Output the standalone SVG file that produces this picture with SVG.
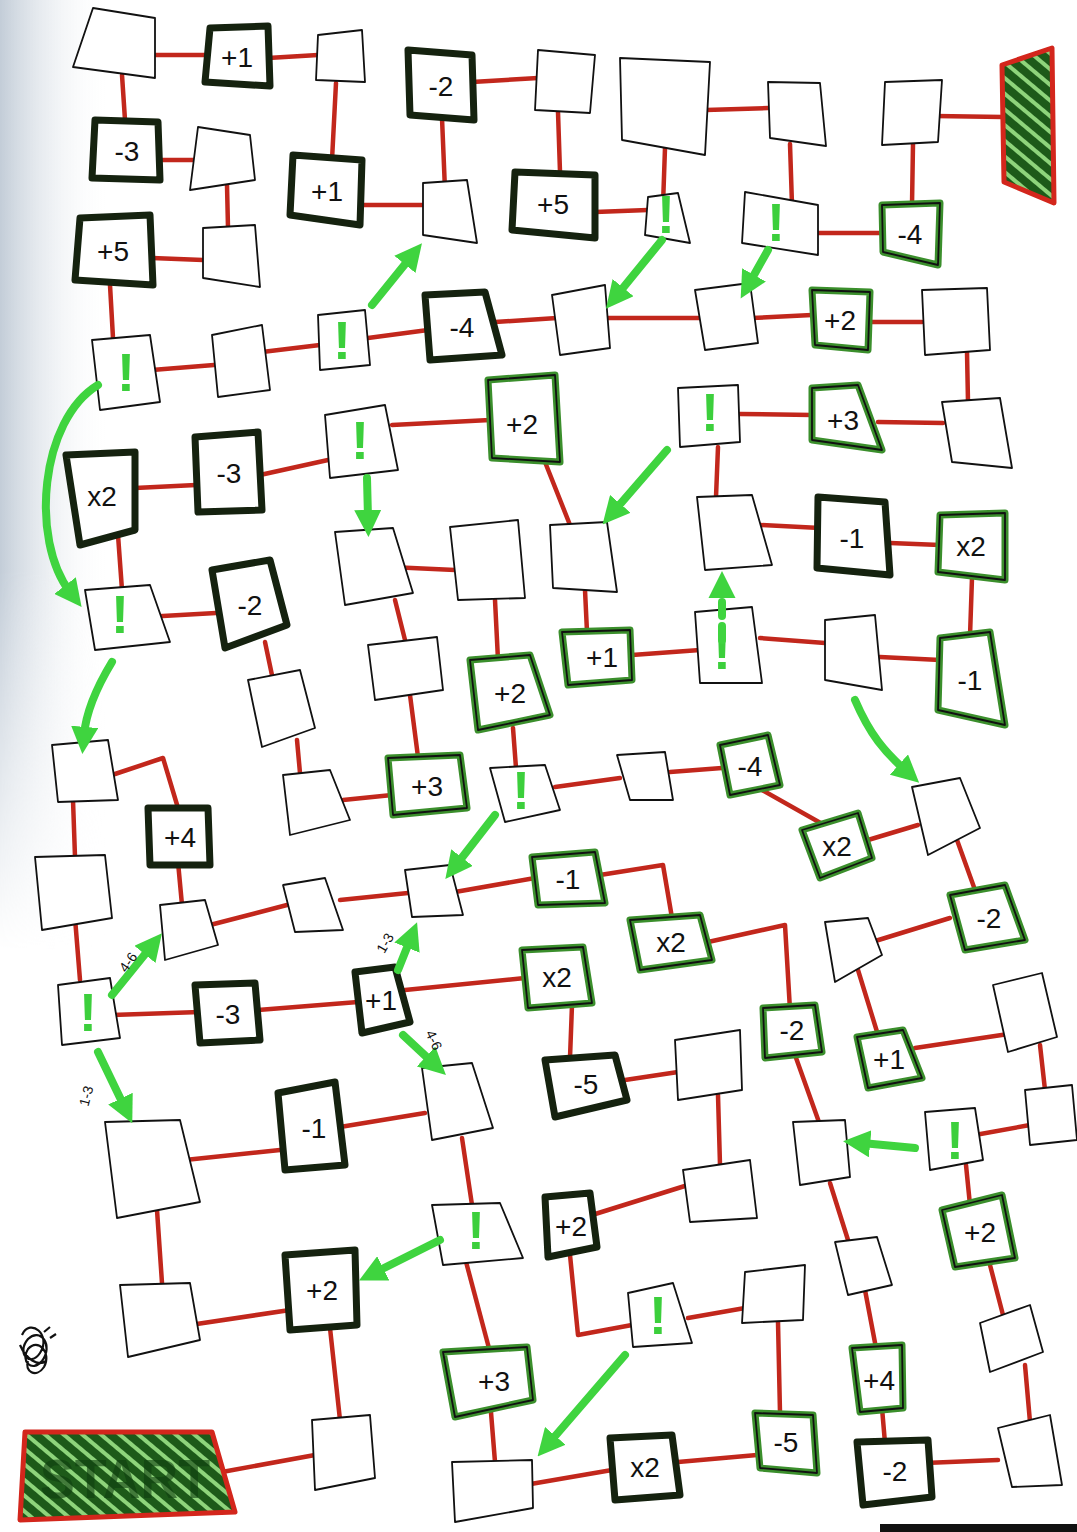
<svg xmlns="http://www.w3.org/2000/svg" width="1077" height="1532" viewBox="0 0 1077 1532">
<defs>
<style>
.plain{fill:#fff;stroke:#111;stroke-width:1.8;stroke-linejoin:round}
.dark{fill:#fff;stroke:#15220f;stroke-width:7;stroke-linejoin:round}
.green{fill:#fff;stroke:#3b8f2c;stroke-width:7;stroke-linejoin:round}
.edge{fill:none;stroke:#111;stroke-width:1.8;stroke-linejoin:round}
.lbl{font-family:"Liberation Sans",Arial,sans-serif;font-size:28px;fill:#111;text-anchor:middle;dominant-baseline:central}
.bang{font-family:"Liberation Sans",Arial,sans-serif;font-size:54px;font-weight:bold;fill:#3ccf3c;text-anchor:middle;dominant-baseline:central}
.dice{font-family:"Liberation Sans",Arial,sans-serif;font-size:14px;fill:#111;text-anchor:middle;dominant-baseline:central}
#connectors line,#connectors polyline{stroke:#c2271c;stroke-width:4.5;fill:none;stroke-linecap:round;stroke-linejoin:round}
.arr{stroke:#3fd43f;stroke-width:8;fill:none;stroke-linecap:round;marker-end:url(#ah)}
.goal{fill:url(#hatch);stroke:#d3261c;stroke-width:5;stroke-linejoin:round}
</style>
<marker id="ah" viewBox="0 0 10 10" refX="3" refY="5" markerWidth="3.4" markerHeight="3.4" orient="auto"><path d="M0,0 L10,5 L0,10 z" fill="#3fd43f"/></marker>
<pattern id="hatch" patternUnits="userSpaceOnUse" width="12" height="12" patternTransform="rotate(-50)"><rect width="12" height="12" fill="#8ed47b"/><rect width="8" height="12" fill="#1d5a19"/></pattern>
<linearGradient id="bgl" x1="0" y1="0" x2="1" y2="0"><stop offset="0" stop-color="#c3cdd8"/><stop offset="1" stop-color="#ffffff" stop-opacity="0"/></linearGradient>
<linearGradient id="fadev" x1="0" y1="0" x2="0" y2="1"><stop offset="0" stop-color="#fff"/><stop offset="0.6" stop-color="#fff"/><stop offset="1" stop-color="#000"/></linearGradient>
<mask id="fm"><rect x="0" y="0" width="110" height="950" fill="url(#fadev)"/></mask>
</defs>
<rect width="1077" height="1532" fill="#fff"/>
<rect x="0" y="0" width="110" height="950" fill="url(#bgl)" mask="url(#fm)"/>
<rect x="880" y="1524" width="197" height="8" fill="#111"/>
<path d="M22,1335 c8,-18 30,0 18,18 c-10,15 -24,0 -12,-14 c12,-12 26,6 14,22 c-10,12 -22,0 -14,-12 c10,-12 24,4 16,18 c-8,12 -20,4 -16,-6 M20,1345 c6,14 18,22 26,16 M44,1332 l6,-5 M50,1338 l6,-4" fill="none" stroke="#111" stroke-width="2.2"/>

<g id="connectors">
<line x1="155" y1="55" x2="208" y2="55"/>
<line x1="268" y1="58" x2="318" y2="55"/>
<line x1="122" y1="75" x2="125" y2="120"/>
<line x1="160" y1="160" x2="198" y2="160"/>
<line x1="227" y1="185" x2="228" y2="228"/>
<line x1="152" y1="258" x2="203" y2="260"/>
<line x1="110" y1="285" x2="113" y2="338"/>
<line x1="152" y1="370" x2="214" y2="365"/>
<line x1="262" y1="352" x2="320" y2="345"/>
<line x1="368" y1="338" x2="428" y2="330"/>
<line x1="495" y1="322" x2="557" y2="318"/>
<line x1="604" y1="318" x2="700" y2="318"/>
<line x1="752" y1="318" x2="812" y2="315"/>
<line x1="868" y1="322" x2="922" y2="322"/>
<line x1="967" y1="352" x2="968" y2="402"/>
<line x1="943" y1="423" x2="878" y2="422"/>
<line x1="812" y1="415" x2="740" y2="414"/>
<line x1="718" y1="447" x2="716" y2="497"/>
<line x1="760" y1="525" x2="820" y2="528"/>
<line x1="890" y1="543" x2="940" y2="545"/>
<line x1="972" y1="578" x2="970" y2="636"/>
<line x1="940" y1="660" x2="880" y2="657"/>
<line x1="825" y1="643" x2="760" y2="638"/>
<line x1="700" y1="650" x2="632" y2="655"/>
<line x1="587" y1="632" x2="585" y2="590"/>
<line x1="570" y1="525" x2="545" y2="462"/>
<line x1="490" y1="420" x2="392" y2="425"/>
<line x1="328" y1="460" x2="260" y2="475"/>
<line x1="196" y1="485" x2="135" y2="488"/>
<line x1="118" y1="535" x2="122" y2="590"/>
<line x1="145" y1="617" x2="216" y2="613"/>
<line x1="265" y1="642" x2="273" y2="680"/>
<line x1="297" y1="740" x2="300" y2="773"/>
<line x1="343" y1="800" x2="392" y2="795"/>
<line x1="418" y1="757" x2="410" y2="695"/>
<line x1="405" y1="640" x2="395" y2="600"/>
<line x1="390" y1="567" x2="455" y2="570"/>
<line x1="495" y1="600" x2="498" y2="660"/>
<line x1="513" y1="728" x2="516" y2="768"/>
<line x1="555" y1="787" x2="620" y2="778"/>
<line x1="670" y1="772" x2="722" y2="768"/>
<line x1="762" y1="790" x2="833" y2="830"/>
<line x1="868" y1="840" x2="918" y2="825"/>
<line x1="957" y1="840" x2="975" y2="890"/>
<line x1="950" y1="918" x2="872" y2="942"/>
<line x1="858" y1="970" x2="878" y2="1035"/>
<line x1="915" y1="1048" x2="1015" y2="1033"/>
<line x1="1040" y1="1045" x2="1045" y2="1090"/>
<line x1="1030" y1="1125" x2="975" y2="1135"/>
<line x1="966" y1="1165" x2="970" y2="1205"/>
<line x1="990" y1="1265" x2="1003" y2="1315"/>
<line x1="1025" y1="1365" x2="1030" y2="1422"/>
<line x1="998" y1="1460" x2="925" y2="1463"/>
<line x1="885" y1="1443" x2="882" y2="1408"/>
<line x1="876" y1="1348" x2="865" y2="1290"/>
<line x1="848" y1="1240" x2="830" y2="1183"/>
<line x1="820" y1="1125" x2="795" y2="1055"/>
<polyline points="790,1010 785,925 708,942"/>
<polyline points="672,918 663,865 600,875"/>
<line x1="535" y1="878" x2="455" y2="892"/>
<line x1="408" y1="893" x2="340" y2="900"/>
<line x1="287" y1="905" x2="210" y2="925"/>
<line x1="182" y1="905" x2="178" y2="862"/>
<polyline points="112,775 163,758 178,808"/>
<line x1="73" y1="800" x2="75" y2="857"/>
<line x1="75" y1="918" x2="80" y2="980"/>
<line x1="112" y1="1015" x2="200" y2="1012"/>
<line x1="258" y1="1010" x2="358" y2="1002"/>
<line x1="405" y1="990" x2="525" y2="978"/>
<line x1="572" y1="1005" x2="570" y2="1058"/>
<line x1="625" y1="1080" x2="678" y2="1072"/>
<line x1="718" y1="1095" x2="720" y2="1165"/>
<line x1="688" y1="1185" x2="592" y2="1215"/>
<polyline points="570,1255 578,1335 632,1325"/>
<line x1="688" y1="1318" x2="745" y2="1308"/>
<line x1="778" y1="1322" x2="780" y2="1413"/>
<line x1="757" y1="1455" x2="678" y2="1462"/>
<line x1="612" y1="1470" x2="525" y2="1485"/>
<line x1="495" y1="1462" x2="490" y2="1400"/>
<line x1="490" y1="1352" x2="465" y2="1258"/>
<line x1="472" y1="1205" x2="462" y2="1138"/>
<line x1="425" y1="1113" x2="340" y2="1127"/>
<line x1="280" y1="1150" x2="185" y2="1160"/>
<line x1="157" y1="1210" x2="162" y2="1283"/>
<line x1="190" y1="1325" x2="290" y2="1310"/>
<line x1="330" y1="1328" x2="340" y2="1420"/>
<line x1="315" y1="1455" x2="222" y2="1472"/>
<line x1="336" y1="83" x2="332" y2="160"/>
<line x1="362" y1="205" x2="423" y2="205"/>
<line x1="445" y1="190" x2="442" y2="118"/>
<line x1="472" y1="82" x2="538" y2="78"/>
<line x1="558" y1="112" x2="560" y2="172"/>
<line x1="595" y1="212" x2="648" y2="210"/>
<line x1="663" y1="205" x2="665" y2="148"/>
<line x1="706" y1="110" x2="768" y2="108"/>
<line x1="790" y1="144" x2="792" y2="205"/>
<line x1="818" y1="233" x2="882" y2="233"/>
<line x1="912" y1="205" x2="913" y2="144"/>
<line x1="935" y1="116" x2="1003" y2="117"/>
</g>

<g id="n-finish"><polygon class="goal" points="1002,65 1052,48 1054,203 1004,182"/></g>
<g id="n-start"><polygon class="goal" points="25,1432 212,1432 235,1512 20,1520"/><text x="125" y="1478" font-family="Liberation Sans, Arial, sans-serif" font-size="56" font-weight="bold" fill="#0f3d0f" fill-opacity="0.6" text-anchor="middle" dominant-baseline="central" textLength="170" lengthAdjust="spacingAndGlyphs">START</text></g>

<g id="n1"><polygon class="plain" points="93,8 155,18 155,78 73,67"/></g>
<g id="n2"><polygon class="dark" points="210,28 268,26 270,86 205,82"/><text class="lbl" x="237" y="57">+1</text></g>
<g id="n3"><polygon class="plain" points="318,35 362,30 365,82 316,80"/></g>
<g id="n4"><polygon class="dark" points="408,50 472,55 474,120 410,115"/><text class="lbl" x="441" y="86">-2</text></g>
<g id="n5"><polygon class="plain" points="538,50 595,55 590,113 535,110"/></g>
<g id="n6"><polygon class="plain" points="620,58 710,62 705,155 622,140"/></g>
<g id="n7"><polygon class="plain" points="768,82 820,83 826,146 770,138"/></g>
<g id="n8"><polygon class="plain" points="885,82 942,80 938,142 882,145"/></g>
<g id="n10"><polygon class="dark" points="95,120 158,122 160,180 92,178"/><text class="lbl" x="127" y="151">-3</text></g>
<g id="n11"><polygon class="plain" points="198,127 250,135 255,180 190,190"/></g>
<g id="n12"><polygon class="dark" points="293,155 362,160 360,225 290,215"/><text class="lbl" x="327" y="191">+1</text></g>
<g id="n13"><polygon class="plain" points="423,183 467,180 477,243 423,235"/></g>
<g id="n14"><polygon class="dark" points="515,172 595,175 595,238 512,230"/><text class="lbl" x="553" y="204">+5</text></g>
<g id="n15"><polygon class="plain" points="648,197 678,193 690,243 645,235"/><text class="bang" x="666" y="214">!</text></g>
<g id="n16"><polygon class="plain" points="745,192 818,205 818,255 742,243"/><text class="bang" x="776" y="222">!</text></g>
<g id="n17"><polygon class="green" points="882,205 940,203 938,265 883,252"/><polygon class="edge" points="882,205 940,203 938,265 883,252"/><text class="lbl" x="910" y="234">-4</text></g>
<g id="n18"><polygon class="plain" points="203,228 255,225 260,287 203,278"/></g>
<g id="n19"><polygon class="dark" points="80,218 150,215 153,285 75,280"/><text class="lbl" x="113" y="251">+5</text></g>
<g id="n20"><polygon class="plain" points="92,340 150,335 160,402 100,410"/><text class="bang" x="126" y="372">!</text></g>
<g id="n21"><polygon class="plain" points="212,335 262,325 270,390 218,397"/></g>
<g id="n22"><polygon class="plain" points="318,315 365,310 370,365 320,370"/><text class="bang" x="342" y="340">!</text></g>
<g id="n23"><polygon class="dark" points="425,295 485,292 502,355 430,360"/><text class="lbl" x="462" y="327">-4</text></g>
<g id="n24"><polygon class="plain" points="552,295 605,285 610,348 560,355"/></g>
<g id="n25"><polygon class="plain" points="695,290 750,283 758,343 705,350"/></g>
<g id="n26"><polygon class="green" points="812,290 870,292 868,350 815,345"/><polygon class="edge" points="812,290 870,292 868,350 815,345"/><text class="lbl" x="840" y="320">+2</text></g>
<g id="n27"><polygon class="plain" points="922,290 987,288 990,350 925,355"/></g>
<g id="n28"><polygon class="dark" points="66,455 135,452 135,530 80,545"/><text class="lbl" x="102" y="496">x2</text></g>
<g id="n29"><polygon class="dark" points="195,437 258,432 262,510 198,512"/><text class="lbl" x="229" y="473">-3</text></g>
<g id="n30"><polygon class="plain" points="325,415 385,405 398,470 330,478"/><text class="bang" x="360" y="440">!</text></g>
<g id="n31"><polygon class="green" points="488,380 555,375 560,462 492,458"/><polygon class="edge" points="488,380 555,375 560,462 492,458"/><text class="lbl" x="522" y="424">+2</text></g>
<g id="n32"><polygon class="plain" points="678,388 738,385 740,442 680,447"/><text class="bang" x="710" y="412">!</text></g>
<g id="n33"><polygon class="green" points="812,388 858,385 882,450 812,440"/><polygon class="edge" points="812,388 858,385 882,450 812,440"/><text class="lbl" x="843" y="420">+3</text></g>
<g id="n34"><polygon class="plain" points="942,402 1000,398 1012,468 952,462"/></g>
<g id="n35"><polygon class="plain" points="85,590 150,585 170,642 95,650"/><text class="bang" x="120" y="614">!</text></g>
<g id="n36"><polygon class="dark" points="212,570 270,560 287,625 225,648"/><text class="lbl" x="250" y="605">-2</text></g>
<g id="p1"><polygon class="plain" points="335,532 393,528 413,593 345,605"/></g>
<g id="p2"><polygon class="plain" points="450,527 518,520 525,598 458,600"/></g>
<g id="p3"><polygon class="plain" points="550,525 607,522 617,592 553,588"/></g>
<g id="p4"><polygon class="plain" points="697,497 752,495 772,565 705,570"/></g>
<g id="p5"><polygon class="dark" points="818,497 885,502 890,575 817,568"/><text class="lbl" x="852" y="538">-1</text></g>
<g id="p6"><polygon class="green" points="940,515 1005,513 1005,580 938,572"/><polygon class="edge" points="940,515 1005,513 1005,580 938,572"/><text class="lbl" x="971" y="546">x2</text></g>
<g id="q1"><polygon class="plain" points="248,680 300,670 315,728 262,747"/></g>
<g id="q2"><polygon class="plain" points="368,645 437,637 443,690 375,700"/></g>
<g id="q3"><polygon class="green" points="470,660 530,655 550,715 478,730"/><polygon class="edge" points="470,660 530,655 550,715 478,730"/><text class="lbl" x="510" y="693">+2</text></g>
<g id="q4"><polygon class="green" points="562,632 630,630 632,680 568,685"/><polygon class="edge" points="562,632 630,630 632,680 568,685"/><text class="lbl" x="602" y="657">+1</text></g>
<g id="q5"><polygon class="plain" points="695,612 752,607 762,683 700,683"/><text class="bang" x="722" y="650">!</text></g>
<g id="q5b"><polygon class="plain" points="825,620 875,615 882,690 825,680"/></g>
<g id="q6"><polygon class="green" points="940,638 990,632 1005,725 938,710"/><polygon class="edge" points="940,638 990,632 1005,725 938,710"/><text class="lbl" x="970" y="680">-1</text></g>
<g id="r1"><polygon class="plain" points="52,745 108,740 118,800 58,802"/></g>
<g id="r2"><polygon class="dark" points="148,808 208,808 210,865 150,865"/><text class="lbl" x="180" y="837">+4</text></g>
<g id="r3"><polygon class="plain" points="283,775 330,770 350,820 290,835"/></g>
<g id="r4"><polygon class="green" points="388,758 460,755 467,808 393,815"/><polygon class="edge" points="388,758 460,755 467,808 393,815"/><text class="lbl" x="427" y="786">+3</text></g>
<g id="r5"><polygon class="plain" points="490,768 545,765 560,810 505,822"/><text class="bang" x="521" y="790">!</text></g>
<g id="r6"><polygon class="plain" points="617,755 665,752 673,800 630,800"/></g>
<g id="r7"><polygon class="green" points="720,745 768,735 780,785 730,795"/><polygon class="edge" points="720,745 768,735 780,785 730,795"/><text class="lbl" x="750" y="766">-4</text></g>
<g id="r8"><polygon class="plain" points="912,787 960,778 980,828 928,855"/></g>
<g id="r9"><polygon class="green" points="802,830 858,813 872,858 820,878"/><polygon class="edge" points="802,830 858,813 872,858 820,878"/><text class="lbl" x="837" y="846">x2</text></g>
<g id="r10"><polygon class="plain" points="35,857 105,855 112,918 42,930"/></g>
<g id="s1"><polygon class="plain" points="160,905 205,900 218,945 165,960"/></g>
<g id="s2"><polygon class="plain" points="283,885 325,878 343,930 295,932"/></g>
<g id="s3"><polygon class="plain" points="405,870 450,865 463,915 412,917"/></g>
<g id="s4"><polygon class="green" points="532,857 595,852 605,903 538,905"/><polygon class="edge" points="532,857 595,852 605,903 538,905"/><text class="lbl" x="568" y="879">-1</text></g>
<g id="s5"><polygon class="green" points="630,920 700,915 712,960 640,970"/><polygon class="edge" points="630,920 700,915 712,960 640,970"/><text class="lbl" x="671" y="942">x2</text></g>
<g id="s6"><polygon class="green" points="950,895 1005,885 1025,940 965,950"/><polygon class="edge" points="950,895 1005,885 1025,940 965,950"/><text class="lbl" x="989" y="918">-2</text></g>
<g id="s7"><polygon class="plain" points="58,985 110,978 120,1038 62,1045"/><text class="bang" x="88" y="1012">!</text></g>
<g id="s8"><polygon class="dark" points="195,985 255,983 260,1040 200,1043"/><text class="lbl" x="228" y="1014">-3</text></g>
<g id="s9"><polygon class="dark" points="355,972 395,967 410,1022 362,1033"/><text class="lbl" x="381" y="1000">+1</text></g>
<g id="s10"><polygon class="green" points="522,950 583,947 592,1003 528,1008"/><polygon class="edge" points="522,950 583,947 592,1003 528,1008"/><text class="lbl" x="557" y="977">x2</text></g>
<g id="s11"><polygon class="dark" points="545,1060 615,1055 627,1100 555,1117"/><text class="lbl" x="586" y="1084">-5</text></g>
<g id="s12"><polygon class="plain" points="675,1040 740,1030 742,1090 678,1100"/></g>
<g id="t1"><polygon class="plain" points="825,922 868,918 882,955 835,982"/></g>
<g id="t2"><polygon class="green" points="763,1008 815,1005 822,1052 765,1058"/><polygon class="edge" points="763,1008 815,1005 822,1052 765,1058"/><text class="lbl" x="792" y="1030">-2</text></g>
<g id="t3"><polygon class="green" points="857,1037 903,1030 922,1078 868,1088"/><polygon class="edge" points="857,1037 903,1030 922,1078 868,1088"/><text class="lbl" x="889" y="1059">+1</text></g>
<g id="t4"><polygon class="plain" points="993,985 1042,973 1057,1037 1008,1052"/></g>
<g id="t5"><polygon class="plain" points="1025,1090 1072,1085 1077,1140 1030,1145"/></g>
<g id="u1"><polygon class="plain" points="105,1122 180,1120 200,1202 117,1218"/></g>
<g id="u2"><polygon class="dark" points="278,1093 335,1082 345,1165 285,1170"/><text class="lbl" x="314" y="1128">-1</text></g>
<g id="u3"><polygon class="plain" points="422,1068 472,1063 493,1128 432,1140"/></g>
<g id="u4"><polygon class="plain" points="432,1205 500,1203 523,1258 443,1265"/><text class="bang" x="476" y="1230">!</text></g>
<g id="u5"><polygon class="dark" points="545,1197 590,1193 597,1247 548,1257"/><text class="lbl" x="571" y="1226">+2</text></g>
<g id="u6"><polygon class="plain" points="683,1170 750,1160 757,1218 690,1222"/></g>
<g id="u7"><polygon class="plain" points="793,1122 845,1120 850,1177 800,1185"/></g>
<g id="u8"><polygon class="plain" points="925,1112 975,1108 983,1160 930,1170"/><text class="bang" x="955" y="1140">!</text></g>
<g id="v0"><polygon class="plain" points="120,1285 190,1283 200,1340 128,1357"/></g>
<g id="v1"><polygon class="dark" points="285,1255 355,1250 357,1325 290,1330"/><text class="lbl" x="322" y="1290">+2</text></g>
<g id="v2"><polygon class="plain" points="628,1293 673,1283 692,1343 633,1347"/><text class="bang" x="658" y="1315">!</text></g>
<g id="v3"><polygon class="plain" points="745,1272 805,1265 803,1320 742,1323"/></g>
<g id="w1"><polygon class="plain" points="835,1242 877,1237 892,1285 848,1295"/></g>
<g id="w2"><polygon class="green" points="942,1210 1002,1195 1015,1258 955,1267"/><polygon class="edge" points="942,1210 1002,1195 1015,1258 955,1267"/><text class="lbl" x="980" y="1232">+2</text></g>
<g id="w3"><polygon class="plain" points="980,1323 1030,1305 1043,1352 990,1372"/></g>
<g id="w4"><polygon class="green" points="852,1348 902,1345 903,1408 860,1412"/><polygon class="edge" points="852,1348 902,1345 903,1408 860,1412"/><text class="lbl" x="879" y="1380">+4</text></g>
<g id="u9"><polygon class="green" points="443,1352 527,1347 533,1400 455,1417"/><polygon class="edge" points="443,1352 527,1347 533,1400 455,1417"/><text class="lbl" x="494" y="1381">+3</text></g>
<g id="x1"><polygon class="plain" points="312,1420 370,1415 375,1478 315,1490"/></g>
<g id="x2"><polygon class="plain" points="452,1462 532,1460 533,1508 455,1522"/></g>
<g id="x3"><polygon class="dark" points="610,1438 672,1435 680,1495 615,1500"/><text class="lbl" x="645" y="1467">x2</text></g>
<g id="x4"><polygon class="green" points="755,1413 813,1415 817,1473 760,1468"/><polygon class="edge" points="755,1413 813,1415 817,1473 760,1468"/><text class="lbl" x="786" y="1442">-5</text></g>
<g id="x5"><polygon class="dark" points="857,1442 928,1440 932,1497 863,1505"/><text class="lbl" x="895" y="1471">-2</text></g>
<g id="x6"><polygon class="plain" points="998,1428 1050,1415 1062,1485 1012,1487"/></g>

<g id="arrows">
<path class="arr" d="M372,305 L410,258"/>
<path class="arr" d="M662,240 L618,294"/>
<path class="arr" d="M768,250 L750,282"/>
<path class="arr" d="M98,385 C40,420 30,540 70,592"/>
<path class="arr" d="M367,478 L368,518"/>
<path class="arr" d="M667,450 L615,510"/>
<path class="arr" d="M112,662 C95,690 86,712 84,735"/>
<path class="arr" d="M722,640 L722,590" stroke-dasharray="14 10"/>
<path class="arr" d="M855,700 C870,735 885,752 905,770"/>
<path class="arr" d="M495,815 L457,864"/>
<path class="arr" d="M112,995 L150,948"/>
<path class="arr" d="M98,1052 L124,1106"/>
<path class="arr" d="M398,970 L410,940"/>
<path class="arr" d="M403,1035 L432,1062"/>
<path class="arr" d="M915,1148 L862,1143"/>
<path class="arr" d="M440,1240 L376,1272"/>
<path class="arr" d="M625,1355 L550,1442"/>
</g>
<g id="dice-labels">
<text class="dice" x="128" y="962" transform="rotate(-55 128 962)">4-6</text>
<text class="dice" x="86" y="1096" transform="rotate(-75 86 1096)">1-3</text>
<text class="dice" x="385" y="943" transform="rotate(-60 385 943)">1-3</text>
<text class="dice" x="434" y="1040" transform="rotate(65 434 1040)">4-6</text>
</g>
</svg>
